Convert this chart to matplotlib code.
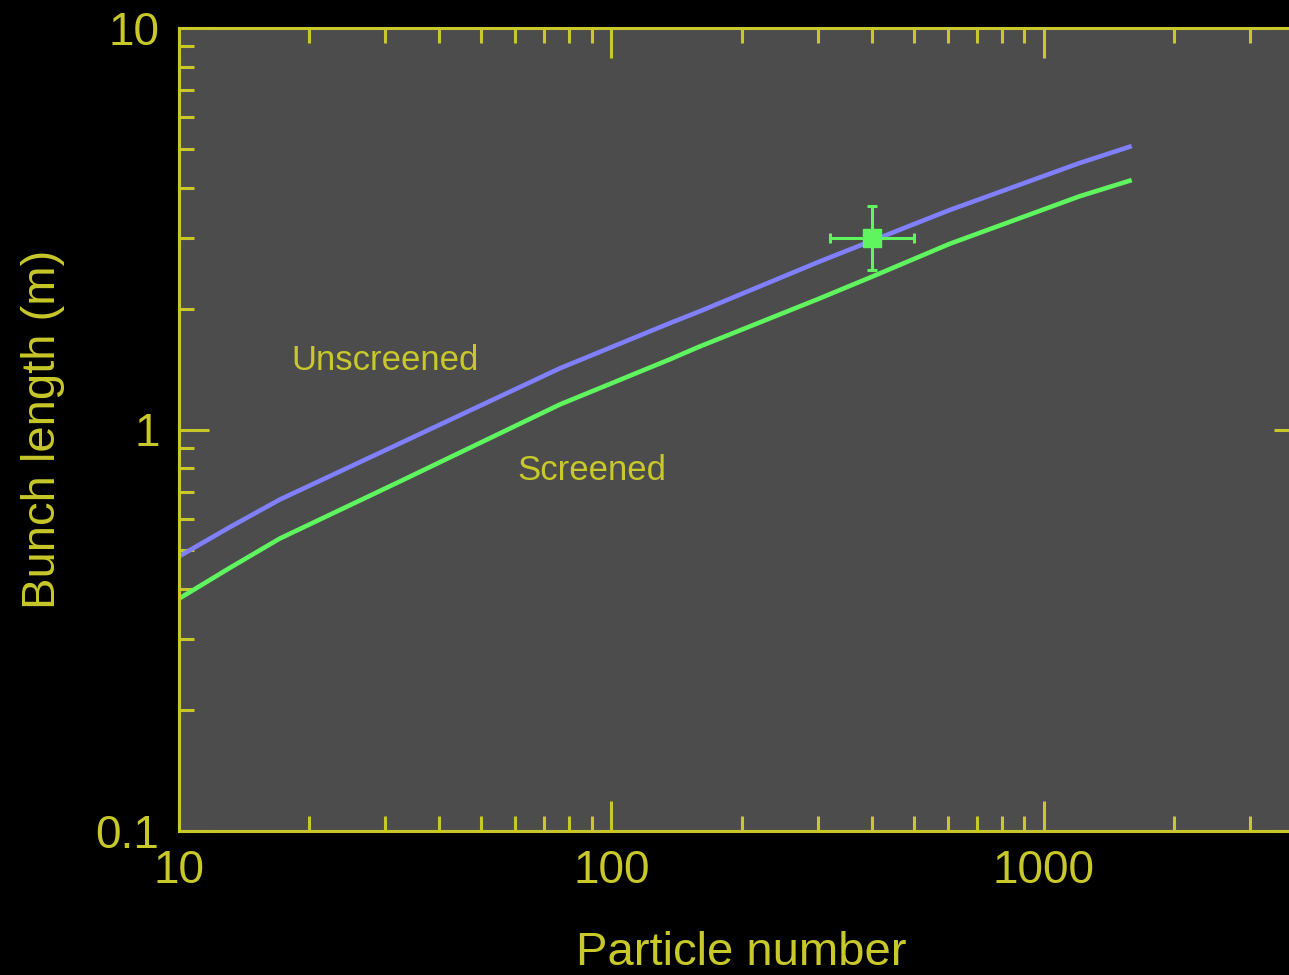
import matplotlib
matplotlib.use("Agg")
import matplotlib.pyplot as plt
from matplotlib.ticker import LogLocator, NullFormatter, FixedLocator, FixedFormatter

# bunch length vs particle number, unscreened / screened model curves
n_unscreened = [10, 13.1, 17.1, 32.4, 76.0, 136.5, 160.2, 303, 400, 606, 1211, 1598]
len_unscreened = [0.483, 0.571, 0.669, 0.923, 1.42, 1.84, 1.97, 2.62, 2.95, 3.52, 4.61, 5.08]

n_screened = [10, 13.1, 17.1, 32.4, 76.0, 136.5, 160.2, 303, 400, 606, 1211, 1598]
len_screened = [0.379, 0.452, 0.535, 0.742, 1.154, 1.495, 1.61, 2.12, 2.40, 2.90, 3.81, 4.18]

# measured point with asymmetric errors
meas_n = [400]
meas_len = [3.0]
meas_n_err = [[80], [100]]
meas_len_err = [[0.5], [0.6]]

YEL = "#c8c82a"
BG = "#4c4c4c"
BLUE = "#8080ff"
GREEN = "#5ff55f"

plt.rcParams["font.family"] = ["Liberation Sans", "DejaVu Sans"]

fig = plt.figure(figsize=(12.89, 9.75), dpi=100, facecolor="black")
ax = fig.add_axes([179 / 1289, 144 / 975, 1125 / 1289, 803 / 975])
ax.set_facecolor(BG)

ax.plot(n_unscreened, len_unscreened, color=BLUE, lw=3.3, solid_capstyle="butt",
        solid_joinstyle="round")
ax.plot(n_screened, len_screened, color=GREEN, lw=3.3, solid_capstyle="butt",
        solid_joinstyle="round")
ax.errorbar(meas_n, meas_len, xerr=meas_n_err, yerr=meas_len_err, fmt="s",
            color=GREEN, ms=13, elinewidth=2.2, capsize=3.6, capthick=2.2)

ax.set_xscale("log")
ax.set_yscale("log")
ax.set_xlim(10, 4000)
ax.set_ylim(0.1, 10)

ax.text(18.2, 1.404, "Unscreened", color=YEL, fontsize=25, va="baseline")
ax.text(60.5, 0.748, "Screened", color=YEL, fontsize=25, va="baseline")

for s in ax.spines.values():
    s.set_color(YEL)
    s.set_linewidth(2.2)

ax.xaxis.set_major_locator(FixedLocator([10, 100, 1000]))
ax.xaxis.set_major_formatter(FixedFormatter(["10", "100", "1000"]))
ax.yaxis.set_major_locator(FixedLocator([0.1, 1, 10]))
ax.yaxis.set_major_formatter(FixedFormatter(["0.1", "1", "10"]))
for a in (ax.xaxis, ax.yaxis):
    a.set_minor_locator(LogLocator(base=10, subs=range(2, 10)))
    a.set_minor_formatter(NullFormatter())

ax.tick_params(which="both", direction="in", colors=YEL, width=2.2,
               top=True, right=True, labelsize=33)
ax.tick_params(which="major", length=21.6)
ax.tick_params(which="minor", length=10.8)
ax.tick_params(axis="x", pad=13)
ax.tick_params(axis="y", pad=14)

ax.set_xlabel("Particle number", color=YEL, fontsize=34, labelpad=27)
ax.set_ylabel("Bunch length (m)", color=YEL, fontsize=34, labelpad=22)

fig.savefig("out.png", dpi=100, facecolor="black")
